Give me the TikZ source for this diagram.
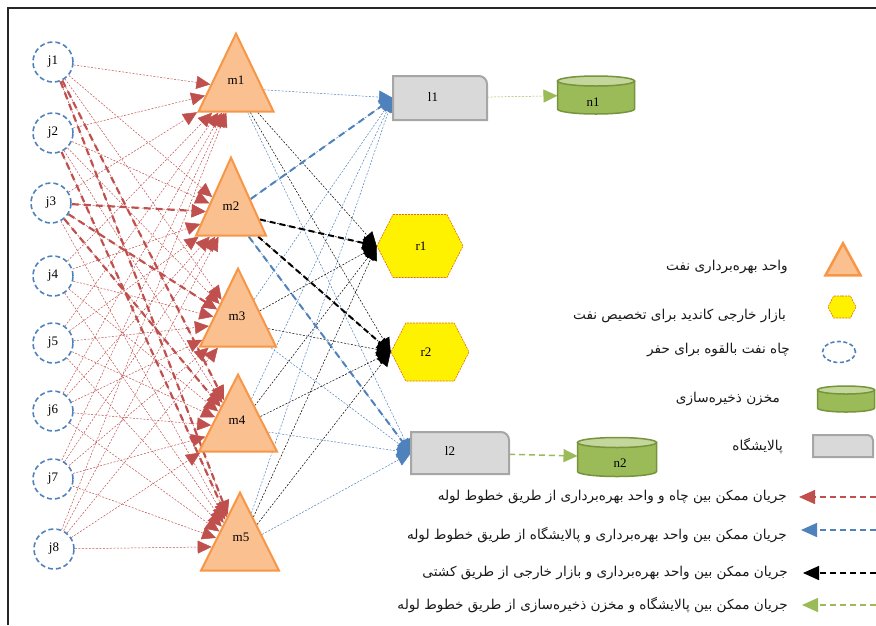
\documentclass[tikz,border=0pt]{standalone}
\usepackage{fontspec}
\setmainfont{Liberation Serif}
\newfontfamily\fa[Script=Arabic]{DejaVu Sans}
\TeXXeTstate=1
\usetikzlibrary{shapes.geometric,shapes.symbols,arrows.meta}
\definecolor{cred}{HTML}{C0504D}
\definecolor{cblue}{HTML}{4F81BD}
\definecolor{corl}{HTML}{F79646}
\definecolor{corf}{HTML}{FAC090}
\definecolor{chexl}{HTML}{E46C0A}
\definecolor{cgb}{HTML}{9BBB59}
\definecolor{cgt}{HTML}{C3D69B}
\definecolor{cgl}{HTML}{77933C}
\definecolor{cboxf}{HTML}{D9D9D9}
\definecolor{cboxl}{HTML}{A6A6A6}
\pgfdeclarelayer{bg}
\pgfsetlayers{bg,main}
\newcommand\drawtank[3]{%
  \path[fill=cgb, draw=cgl, line width=1.5pt] ([yshift=-#3]#1.north west) -- ([yshift=#3]#1.south west) arc[start angle=180,end angle=360,x radius=#2,y radius=#3] -- ([yshift=-#3]#1.north east) -- cycle;
  \path[fill=cgt, draw=cgl, line width=1.5pt] ([yshift=-#3]#1.north) ellipse[x radius=#2, y radius=#3];
}
\tikzset{
  lab/.style={font=\fontsize{13}{15}\selectfont, inner sep=0pt},
  well/.style={circle, draw=cblue, line width=1.6pt, dash pattern=on 5pt off 3pt, minimum size=40pt, inner sep=0pt, font=\fontsize{13}{15}\selectfont},
  tri/.style={isosceles triangle, shape border rotate=90, isosceles triangle stretches, minimum width=#1, inner sep=0pt, fill=corf, draw=corl, line width=2pt, anchor=apex},
  hexa/.style={signal, signal to=east and west, signal pointer angle=126, inner sep=0pt, fill=yellow, draw=chexl, line width=0.6pt, dash pattern=on 2pt off 1pt},
  refbox/.style={rectangle, inner sep=0pt, outer sep=0pt},
  boxline/.style={fill=cboxf, draw=cboxl, line width=2pt},
  legtxt/.style={font=\fa\fontsize{13.6}{16}\selectfont, anchor=east, inner sep=0pt, text=black!90},
  rthin/.style={draw=cred, line width=0.5pt, dash pattern=on 2pt off 1.5pt, -{Triangle[length=14pt,width=13pt]}, cred},
  rthick/.style={draw=cred, line width=2.2pt, dash pattern=on 7pt off 5pt, -{Triangle[length=14pt,width=13pt]}, cred},
  bthin/.style={draw=cblue, line width=0.5pt, dash pattern=on 2pt off 1.5pt, -{Triangle[length=14pt,width=13pt]}, cblue},
  bthick/.style={draw=cblue, line width=2pt, dash pattern=on 7pt off 5pt, -{Triangle[length=14pt,width=13pt]}, cblue},
  kthin/.style={draw=black, line width=0.5pt, dash pattern=on 2pt off 1.5pt, -{Triangle[length=14pt,width=13pt]}, black},
  kthick/.style={draw=black, line width=2pt, dash pattern=on 6pt off 4pt, -{Triangle[length=14pt,width=13pt]}, black},
  gthin/.style={draw=cgb, line width=0.5pt, dash pattern=on 2pt off 1.5pt, -{Triangle[length=14pt,width=13pt]}, cgb},
  gthick/.style={draw=cgb, line width=1.5pt, dash pattern=on 6pt off 4pt, -{Triangle[length=14pt,width=13pt]}, cgb},
}
\begin{document}
\begin{tikzpicture}[x=1pt,y=-1pt]
\useasboundingbox (0,0) rectangle (876,625);
\draw[line width=1.5pt, black!85] (8,625) -- (8,8) -- (876,8);

% wells
\node[well] (j1) at (53,62) {j1};
\node[well] (j2) at (53,133) {j2};
\node[well] (j3) at (51,203) {j3};
\node[well] (j4) at (53,276) {j4};
\node[well] (j5) at (53,343) {j5};
\node[well] (j6) at (53,411) {j6};
\node[well] (j7) at (53,479) {j7};
\node[well] (j8) at (54,549) {j8};

% production units
\node[tri=75pt, minimum height=78pt] (m1) at (236,31) {};
\node[tri=70pt, minimum height=78pt] (m2) at (231,155) {};
\node[tri=76pt, minimum height=78pt] (m3) at (238,266) {};
\node[tri=78pt, minimum height=77pt] (m4) at (238,372) {};
\node[tri=78pt, minimum height=78pt] (m5) at (240,490) {};
\node[lab] (m1t) at (236,80) {m1};
\node[lab] (m2t) at (231,206) {m2};
\node[lab] (m3t) at (237,316) {m3};
\node[lab] (m4t) at (237,420) {m4};
\node[lab] (m5t) at (241,537) {m5};

% refineries
\node[refbox, minimum width=94pt, minimum height=44pt] (l1) at (440,98) {};
\draw[boxline] (l1.south west) -- (l1.north west) -- ([xshift=-8pt]l1.north east) arc[start angle=90,end angle=0,radius=8pt] -- (l1.south east) -- cycle;
\node[lab] (l1t) at (433,97) {l1};
\node[refbox, minimum width=98pt, minimum height=42pt] (l2) at (460,453) {};
\draw[boxline] (l2.south west) -- (l2.north west) -- ([xshift=-8pt]l2.north east) arc[start angle=90,end angle=0,radius=8pt] -- (l2.south east) -- cycle;
\node[lab] (l2t) at (450,451) {l2};

% markets
\node[hexa, minimum width=86pt, minimum height=63pt] (r1) at (420,246) {};
\node[lab] (r1t) at (421,246) {r1};
\node[hexa, minimum width=78pt, minimum height=58pt] (r2) at (430,352) {};
\node[lab] (r2t) at (426,352) {r2};

% storage
\node[refbox, minimum width=77pt, minimum height=38pt] (n1) at (596,95) {};
\drawtank{n1}{38.5pt}{5pt}
\node[lab] (n1t) at (593,102) {n1};
\node[refbox, minimum width=79pt, minimum height=39pt] (n2) at (617,457) {};
\drawtank{n2}{39.5pt}{5pt}
\node[lab] (n2t) at (620,463) {n2};

% connectors
\begin{pgfonlayer}{bg}
\foreach \j in {1,...,8}{\foreach \m in {1,...,5}{\draw[rthin] (j\j) -- (m\m);}}
\draw[rthick] (j1) -- (m4);
\draw[rthick] (j1) -- (m5);
\draw[rthick] (j2) -- (m5);
\draw[rthick] (j3) -- (m2);
\draw[rthick] (j3) -- (m3);
\draw[rthick] (j3) -- (m4);
\foreach \m in {1,...,5}{
  \draw[bthin] (m\m) -- (l1.west);
  \draw[bthin] (m\m) -- (l2.west);
  \draw[kthin] (m\m) -- (r1.west);
  \draw[kthin] (m\m) -- (r2.west);
}
\draw[bthick] (m2) -- (l1.west);
\draw[bthick] (m2) -- (l2.west);
\draw[kthick] (m2) -- (r1.west);
\draw[kthick] (m2) -- (r2.west);
\draw[gthin] (l1) -- (n1);
\draw[gthick] (l2) -- (n2);
\end{pgfonlayer}

% legend icons
\node[tri=35pt, minimum height=32pt, line width=2.5pt] (ltri) at (843,240) {};
\node[hexa, minimum width=28pt, minimum height=22pt] (lhex) at (842,307) {};
\node[ellipse, draw=cblue, line width=1.6pt, dash pattern=on 4pt off 2.5pt, minimum width=33pt, minimum height=21pt, inner sep=0pt] (lell) at (839,352) {};
\node[refbox, minimum width=57pt, minimum height=26pt] (ltank) at (846,399) {};
\drawtank{ltank}{28.5pt}{4pt}
\node[refbox, minimum width=60pt, minimum height=22pt] (lbox) at (843,446) {};
\draw[boxline] (lbox.south west) -- (lbox.north west) -- ([xshift=-5pt]lbox.north east) arc[start angle=90,end angle=0,radius=5pt] -- (lbox.south east) -- cycle;

% legend texts
\node[legtxt] (t1) at (788,267) {\beginR واحد بهره‌برداری نفت\endR};
\node[legtxt] (t2) at (786,316) {\beginR بازار خارجی کاندید برای تخصیص نفت\endR};
\node[legtxt] (t3) at (790,350) {\beginR چاه نفت بالقوه برای حفر\endR};
\node[legtxt] (t4) at (780,399) {\beginR مخزن ذخیره‌سازی\endR};
\node[legtxt] (t5) at (783,446) {\beginR پالایشگاه\endR};
\node[legtxt] (t6) at (787,497) {\beginR جریان ممکن بین چاه و واحد بهره‌برداری از طریق خطوط لوله\endR};
\node[legtxt] (t7) at (787,535) {\beginR جریان ممکن بین واحد بهره‌برداری و پالایشگاه از طریق خطوط لوله\endR};
\node[legtxt] (t8) at (788,573) {\beginR جریان ممکن بین واحد بهره‌برداری و بازار خارجی از طریق کشتی\endR};
\node[legtxt] (t9) at (788,605) {\beginR جریان ممکن بین پالایشگاه و مخزن ذخیره‌سازی از طریق خطوط لوله\endR};

% legend arrows
\coordinate (a1s) at (876,497); \coordinate (a1e) at (799,497);
\coordinate (a2s) at (876,530); \coordinate (a2e) at (801,530);
\coordinate (a3s) at (876,573); \coordinate (a3e) at (803,573);
\coordinate (a4s) at (876,605); \coordinate (a4e) at (802,605);
\draw[draw=cred, line width=1.5pt, dash pattern=on 6pt off 4pt, -{Triangle[length=16pt,width=14pt]}, cred] (a1s) -- (a1e);
\draw[draw=cblue, line width=1.5pt, dash pattern=on 6pt off 4pt, -{Triangle[length=16pt,width=14pt]}, cblue] (a2s) -- (a2e);
\draw[draw=black, line width=1.5pt, dash pattern=on 6pt off 4pt, -{Triangle[length=16pt,width=14pt]}, black] (a3s) -- (a3e);
\draw[draw=cgb, line width=1.5pt, dash pattern=on 6pt off 4pt, -{Triangle[length=16pt,width=14pt]}, cgb] (a4s) -- (a4e);
\end{tikzpicture}
\end{document}
